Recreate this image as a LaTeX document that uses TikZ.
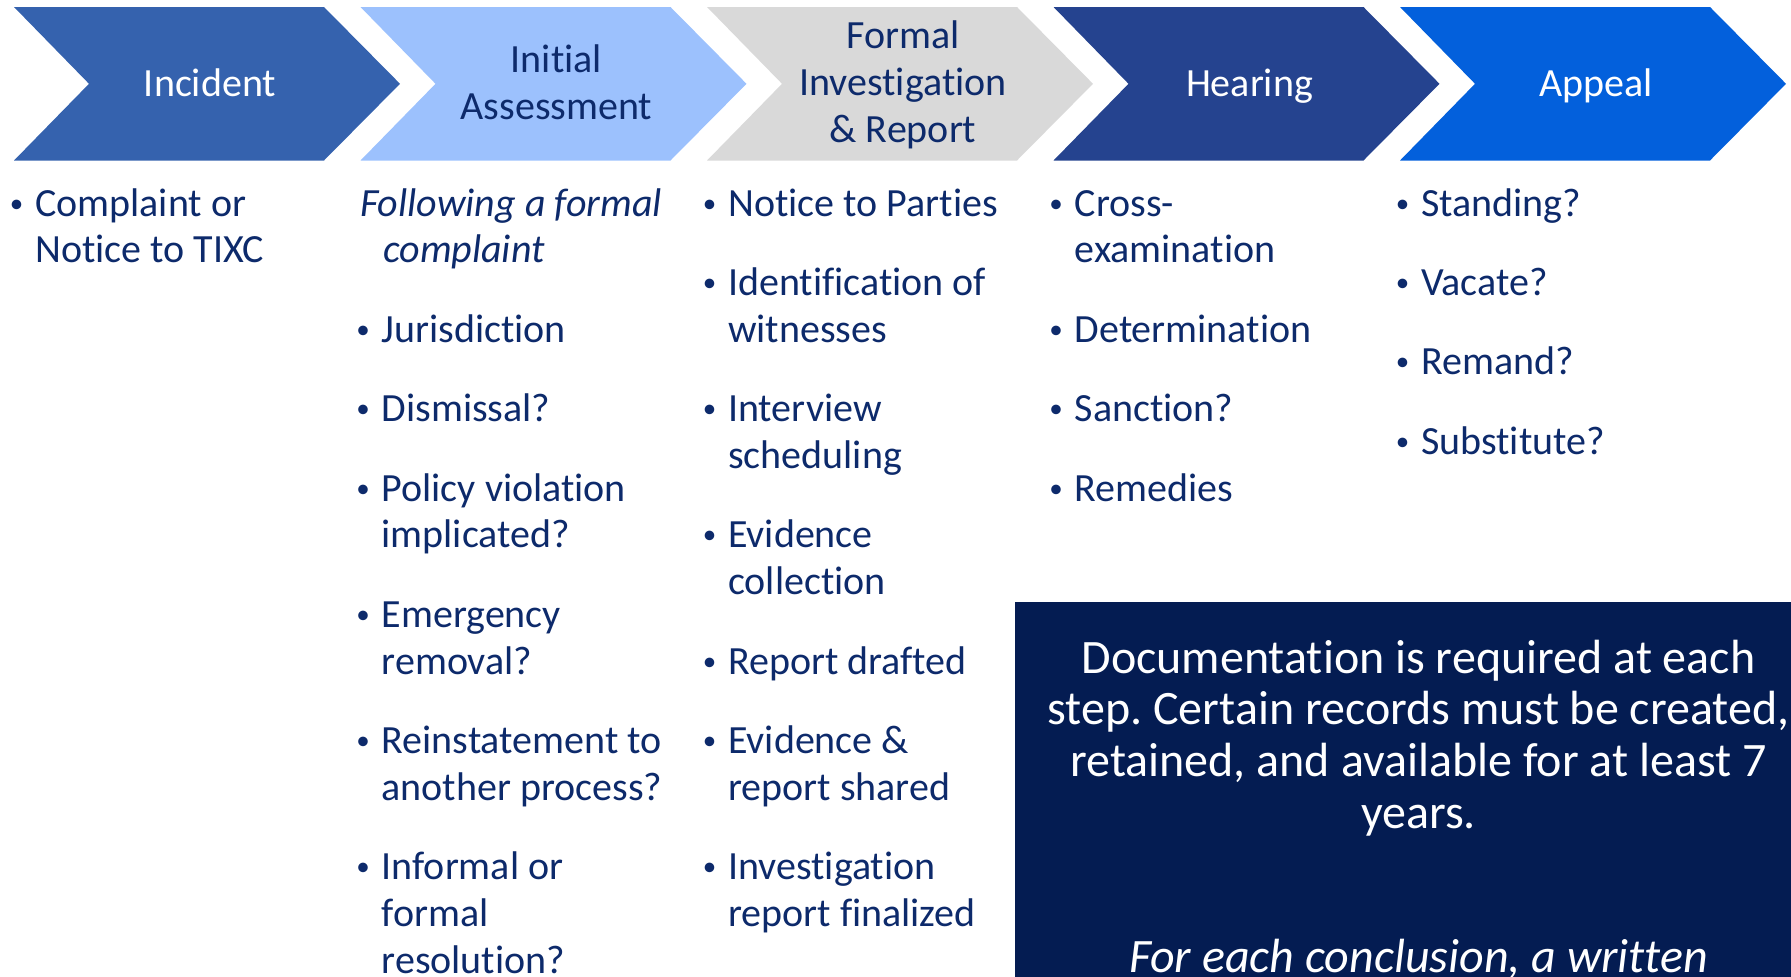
\documentclass[tikz,border=0pt]{standalone}
\usepackage{fontspec}
\setmainfont[Ligatures=NoCommon]{Carlito}
\frenchspacing
\definecolor{navytext}{HTML}{0D2A6B}
\definecolor{chevA}{HTML}{3562AE}
\definecolor{chevB}{HTML}{9CC1FD}
\definecolor{chevC}{HTML}{D9D9D9}
\definecolor{chevD}{HTML}{25438F}
\definecolor{chevE}{HTML}{0360DC}
\definecolor{notebox}{HTML}{041C52}
\begin{document}
\begin{tikzpicture}[x=1pt,y=-1pt,
  chevlabel/.style={anchor=base, inner sep=0pt, font=\fontsize{40}{47}\selectfont},
  bodytext/.style={anchor=base west, inner sep=0pt, text=navytext, font=\fontsize{40}{47}\selectfont},
  bulletmark/.style={anchor=center, inner sep=0pt, text=navytext, font=\fontsize{27}{30}\selectfont, yshift=10pt},
  notetext/.style={anchor=base, inner sep=0pt, text=white, font=\fontsize{48}{52}\selectfont}]
\clip (0,0) rectangle (1791,977);

% process chevrons
\foreach \c/\col in {14/chevA, 360.5/chevB, 707/chevC, 1053.5/chevD, 1400/chevE}{
  \fill[\col] (\c,7) -- (\c+310,7) -- (\c+386,83.8) -- (\c+310,160.5)
              -- (\c,160.5) -- (\c+75,83.8) -- cycle;
}
\node[chevlabel, text=white]    (h1)  at (210,96)    {Incident};
\node[chevlabel, text=navytext] (h2a) at (556.5,72)  {Initial};
\node[chevlabel, text=navytext] (h2b) at (556.5,119) {Assessment};
\node[chevlabel, text=navytext] (h3a) at (903,48)    {Formal};
\node[chevlabel, text=navytext] (h3b) at (903,95)    {Investigation};
\node[chevlabel, text=navytext] (h3c) at (903,142)   {\& Report};
\node[chevlabel, text=white]    (h4)  at (1249.5,96) {Hearing};
\node[chevlabel, text=white]    (h5)  at (1596,96)   {Appeal};

% documentation note
\fill[notebox] (1015,602) rectangle (1830,1000);
\node[notetext] (n1) at (1418.5,673)   {Documentation is required at each};
\node[notetext] (n2) at (1418.5,724.7) {step. Certain records must be created,};
\node[notetext] (n3) at (1418.5,776.4) {retained, and available for at least 7};
\node[notetext] (n4) at (1418.5,828.1) {years.};
\node[notetext, font=\fontsize{48}{52}\selectfont\itshape] (n5) at (1418.5,972) {For each conclusion, a written};

% column 1: incident
\node[bulletmark] (b1a) at (16.5,216) {•};
\node[bodytext] (t1a) at (35,216)   {Complaint or};
\node[bodytext] (t1b) at (35,262.8) {Notice to TIXC};

% column 2: initial assessment
\node[bodytext, font=\fontsize{40}{47}\selectfont\itshape] (t2a) at (360,216)   {Following a formal};
\node[bodytext, font=\fontsize{40}{47}\selectfont\itshape] (t2b) at (383,262.8) {complaint};
\node[bulletmark] (b2a) at (363,342.2) {•};
\node[bodytext] (t2c) at (381.5,342.2) {Jurisdiction};
\node[bulletmark] (b2b) at (363,421.6) {•};
\node[bodytext] (t2d) at (381.5,421.6) {Dismissal?};
\node[bulletmark] (b2c) at (363,501) {•};
\node[bodytext] (t2e) at (381.5,501)   {Policy violation};
\node[bodytext] (t2f) at (381.5,547.8) {implicated?};
\node[bulletmark] (b2d) at (363,627.2) {•};
\node[bodytext] (t2g) at (381.5,627.2) {Emergency};
\node[bodytext] (t2h) at (381.5,674)   {removal?};
\node[bulletmark] (b2e) at (363,753.4) {•};
\node[bodytext] (t2i) at (381.5,753.4) {Reinstatement to};
\node[bodytext] (t2j) at (381.5,800.2) {another process?};
\node[bulletmark] (b2f) at (363,879.6) {•};
\node[bodytext] (t2k) at (381.5,879.6) {Informal or};
\node[bodytext] (t2l) at (381.5,926.4) {formal};
\node[bodytext] (t2m) at (381.5,973.2) {resolution?};

% column 3: formal investigation
\node[bulletmark] (b3a) at (709.5,216) {•};
\node[bodytext] (t3a) at (728,216)   {Notice to Parties};
\node[bulletmark] (b3b) at (709.5,295.4) {•};
\node[bodytext] (t3b) at (728,295.4) {Identification of};
\node[bodytext] (t3c) at (728,342.2) {witnesses};
\node[bulletmark] (b3c) at (709.5,421.6) {•};
\node[bodytext] (t3d) at (728,421.6) {Interview};
\node[bodytext] (t3e) at (728,468.4) {scheduling};
\node[bulletmark] (b3d) at (709.5,547.8) {•};
\node[bodytext] (t3f) at (728,547.8) {Evidence};
\node[bodytext] (t3g) at (728,594.6) {collection};
\node[bulletmark] (b3e) at (709.5,674) {•};
\node[bodytext] (t3h) at (728,674)   {Report drafted};
\node[bulletmark] (b3f) at (709.5,753.4) {•};
\node[bodytext] (t3i) at (728,753.4) {Evidence \&};
\node[bodytext] (t3j) at (728,800.2) {report shared};
\node[bulletmark] (b3g) at (709.5,879.6) {•};
\node[bodytext] (t3k) at (728,879.6) {Investigation};
\node[bodytext] (t3l) at (728,926.4) {report finalized};

% column 4: hearing
\node[bulletmark] (b4a) at (1056,216) {•};
\node[bodytext] (t4a) at (1074.5,216)   {Cross-};
\node[bodytext] (t4b) at (1074.5,262.8) {examination};
\node[bulletmark] (b4b) at (1056,342.2) {•};
\node[bodytext] (t4c) at (1074.5,342.2) {Determination};
\node[bulletmark] (b4c) at (1056,421.6) {•};
\node[bodytext] (t4d) at (1074.5,421.6) {Sanction?};
\node[bulletmark] (b4d) at (1056,501) {•};
\node[bodytext] (t4e) at (1074.5,501)   {Remedies};

% column 5: appeal
\node[bulletmark] (b5a) at (1402.5,216) {•};
\node[bodytext] (t5a) at (1421,216)   {Standing?};
\node[bulletmark] (b5b) at (1402.5,295.4) {•};
\node[bodytext] (t5b) at (1421,295.4) {Vacate?};
\node[bulletmark] (b5c) at (1402.5,374.8) {•};
\node[bodytext] (t5c) at (1421,374.8) {Remand?};
\node[bulletmark] (b5d) at (1402.5,454.2) {•};
\node[bodytext] (t5d) at (1421,454.2) {Substitute?};
\end{tikzpicture}
\end{document}
